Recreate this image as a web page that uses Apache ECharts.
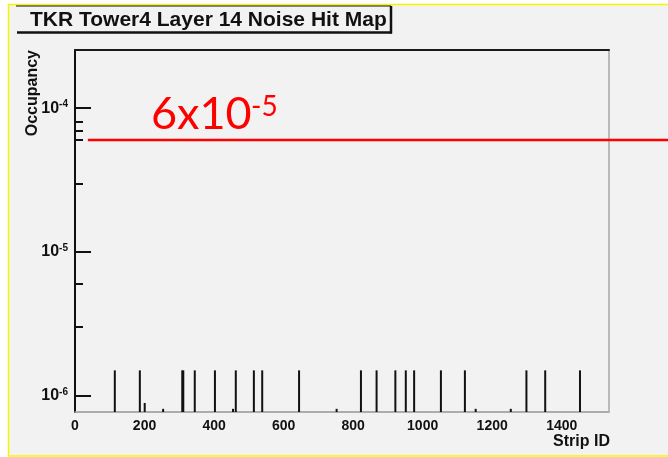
<!DOCTYPE html>
<html>
<head>
<meta charset="utf-8">
<script src="https://cdn.jsdelivr.net/npm/echarts@6/dist/echarts.min.js"></script>
<style>
  html, body { margin: 0; padding: 0; background: #ffffff; }
  #chart { width: 668px; height: 457px; }
</style>
</head>
<body>
<div id="chart"></div>
<script>
// Noise hit map of one tracker layer: per-strip occupancy on a log scale.
const titleText = 'TKR Tower4 Layer 14 Noise Hit Map';
const xTitle = 'Strip ID';
const yTitle = 'Occupancy';

const xMin = 0;
const xMax = 1536;
const xStep = 200;
const yMin = 7.7e-7;
const yMax = 2.54e-4;
const yMajorTicks = [1e-6, 1e-5, 1e-4];
const yMinorTicks = [3e-6, 6e-6, 3e-5, 6e-5, 7e-5, 8e-5];

// strips that fired, and their occupancy
const stripIds = [114, 186, 200, 253, 308, 311, 344, 402, 454, 462, 514, 538, 644, 752,
                  822, 867, 921, 951, 975, 1052, 1121, 1152, 1253, 1298, 1352, 1452];
const occupancy = [1.5e-6, 1.5e-6, 8.9e-7, 8.1e-7, 1.5e-6, 1.5e-6, 1.5e-6, 1.5e-6, 8.1e-7, 1.5e-6, 1.5e-6, 1.5e-6, 1.5e-6, 8.1e-7,
                   1.5e-6, 1.5e-6, 1.5e-6, 1.5e-6, 1.5e-6, 1.5e-6, 1.5e-6, 8.1e-7, 8.1e-7, 1.5e-6, 1.5e-6, 1.5e-6];

// reference level marked across the plot
const refLevel = 6e-5;
const refLabelBase = '6x10';
const refLabelExp = '-5';

const hits = stripIds.map((s, i) => [s + 0.5, occupancy[i]]);

const chart = echarts.init(document.getElementById('chart'), null, { renderer: 'canvas' });

const labelFont = 'Liberation Sans';

const grid = { left: 75, top: 50, right: 59, bottom: 45 };

chart.setOption({
  animation: false,
  backgroundColor: '#ffffff',
  grid: Object.assign({ show: true, backgroundColor: 'transparent', borderColor: '#a8a8a8', borderWidth: 1.5, containLabel: false, outerBoundsMode: 'none' }, grid),
  xAxis: [{
    type: 'value', min: xMin, max: xMax, interval: xStep, position: 'bottom',
    axisLine: { show: true, lineStyle: { color: '#a8a8a8', width: 1.5 } },
    axisTick: { show: false },
    splitLine: { show: false },
    axisLabel: { showMaxLabel: false, margin: 7, color: '#111', fontFamily: labelFont, fontWeight: 'bold', fontSize: 14,
                 formatter: v => String(v) }
  }, {
    type: 'value', min: xMin, max: xMax, position: 'top',
    axisLine: { show: true, lineStyle: { color: '#1a1a1a', width: 2 } },
    axisTick: { show: false }, axisLabel: { show: false }, splitLine: { show: false }
  }],
  yAxis: [{
    type: 'log', logBase: 10, min: yMin, max: yMax, position: 'left',
    axisLine: { show: true, onZero: false, lineStyle: { color: '#111', width: 2 } },
    axisTick: { show: true, inside: true, length: 16, customValues: yMajorTicks, lineStyle: { color: '#111', width: 2 } },
    splitLine: { show: false },
    axisLabel: {
      customValues: yMajorTicks, margin: 7, color: '#111',
      formatter: v => '{b|10}{s|' + Math.round(Math.log10(v)) + '}',
      rich: {
        b: { fontFamily: labelFont, fontWeight: 'bold', fontSize: 16, color: '#111', lineHeight: 17 },
        s: { fontFamily: labelFont, fontWeight: 'bold', fontSize: 10, color: '#111', verticalAlign: 'top', lineHeight: 10 }
      }
    }
  }, {
    type: 'log', logBase: 10, min: yMin, max: yMax, position: 'left',
    axisLine: { show: false },
    axisTick: { show: true, inside: true, length: 8, customValues: yMinorTicks, lineStyle: { color: '#111', width: 2 } },
    axisLabel: { show: false }, splitLine: { show: false }
  }],
  series: [{
    type: 'custom',
    xAxisIndex: 0, yAxisIndex: 0,
    data: hits,
    clip: true,
    renderItem: (params, api) => {
      const top = api.coord([api.value(0), api.value(1)]);
      const base = api.coord([api.value(0), yMin]);
      return {
        type: 'rect',
        shape: { x: top[0] - 1, y: top[1], width: 2, height: base[1] - top[1] },
        style: { fill: '#111' }
      };
    }
  }]
});

// frame decorations, titles and the reference level line
const lineY = chart.convertToPixel({ yAxisIndex: 0 }, refLevel);
const lineX0 = chart.convertToPixel({ xAxisIndex: 0 }, 37);
const W = chart.getWidth();

chart.setOption({
  graphic: [
    { type: 'rect', z: -10, silent: true,
      shape: { x: 8.5, y: 4.5, width: 700, height: 451.5 },
      style: { fill: '#f2f2f2', stroke: '#f5f500', lineWidth: 1.5 } },
    // title box with shadow edges
    { type: 'line', shape: { x1: 16, y1: 6, x2: 391, y2: 6 }, style: { stroke: '#111', lineWidth: 1.2 } },
    { type: 'line', shape: { x1: 17, y1: 32.5, x2: 392, y2: 32.5 }, style: { stroke: '#111', lineWidth: 2.5 } },
    { type: 'line', shape: { x1: 391, y1: 6, x2: 391, y2: 33.5 }, style: { stroke: '#111', lineWidth: 2.5 } },
    { type: 'text', x: 30, y: 20,
      style: { text: titleText, fontFamily: labelFont, fontWeight: 'bold', fontSize: 21, fill: '#111', verticalAlign: 'middle' } },
    // axis titles
    { type: 'text', x: 33, y: 50, rotation: Math.PI / 2,
      style: { text: yTitle, fontFamily: labelFont, fontWeight: 'bold', fontSize: 16, fill: '#111', align: 'right', verticalAlign: 'middle' } },
    { type: 'text', x: 610, y: 442,
      style: { text: xTitle, fontFamily: labelFont, fontWeight: 'bold', fontSize: 16, fill: '#111', align: 'right', verticalAlign: 'middle' } },
    // reference level
    { type: 'line', z: 100, shape: { x1: lineX0, y1: lineY, x2: W, y2: lineY }, style: { stroke: '#ff0000', lineWidth: 2.5 } },
    { type: 'text', z: 100, x: 151, y: 137,
      style: { text: refLabelBase, fontFamily: 'Lato', fontSize: 45, fill: '#ff0000', verticalAlign: 'bottom' } },
    { type: 'text', z: 100, x: 251, y: 93,
      style: { text: refLabelExp, fontFamily: 'Lato', fontSize: 28, fill: '#ff0000', verticalAlign: 'top' } }
  ]
});
</script>
</body>
</html>
